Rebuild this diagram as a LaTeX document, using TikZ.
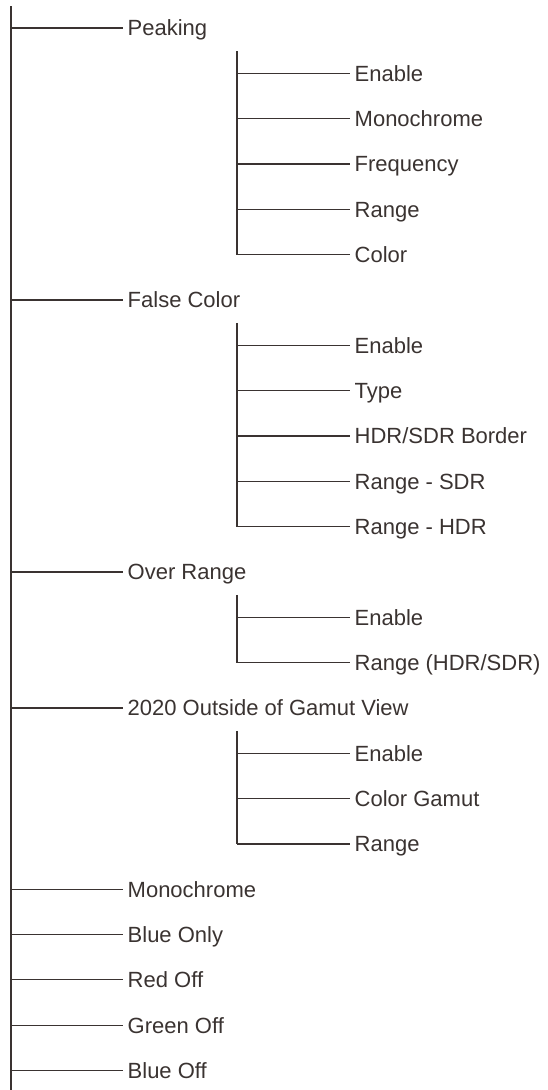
\documentclass[tikz,border=0pt]{standalone}
\usepackage{fontspec}
\setmainfont{Liberation Sans}
\definecolor{ink}{HTML}{3A3331}
\begin{document}
\begin{tikzpicture}[x=1pt,y=-1pt,
  tree/.style={draw=ink,line width=1.1pt},
  lbl/.style={anchor=west,inner xsep=4.5pt,inner ysep=0pt,text height=15.8pt,text depth=0pt,
    text=ink,font=\fontsize{22}{26}\selectfont}]
\useasboundingbox (0,0) rectangle (547,1090);
% main trunk
\coordinate (top) at (11,6);
\coordinate (bot) at (11,1090);
\draw[tree] (top) -- (bot);
% main items
\foreach \k/\t/\n in {0/Peaking/peak, 6/False Color/fc, 12/Over Range/or,
  15/2020 Outside of Gamut View/og, 19/Monochrome/mono, 20/Blue Only/bo,
  21/Red Off/ro, 22/Green Off/go, 23/Blue Off/boff}{
  \pgfmathsetmacro\yy{28+45.33*\k}
  \coordinate (\n-j) at (11,\yy);
  \node[lbl] (\n) at (123,\yy) {\t};
  \draw[tree] (\n-j) -- (\n.west);
}
% sub items
\foreach \k/\t/\n in {1/Enable/pa, 2/Monochrome/pb, 3/Frequency/pc, 4/Range/pd, 5/Color/pe,
  7/Enable/fa, 8/Type/fb, 9/{HDR/SDR Border}/fcc, 10/Range - SDR/fd, 11/Range - HDR/fe,
  13/Enable/oa, 14/{Range (HDR/SDR)}/ob,
  16/Enable/ga, 17/Color Gamut/gb, 18/Range/gc}{
  \pgfmathsetmacro\yy{28+45.33*\k}
  \coordinate (\n-j) at (237,\yy);
  \node[lbl] (\n) at (350,\yy) {\t};
  \draw[tree] (\n-j) -- (\n.west);
}
% sub trunks
\foreach \p/\l in {peak/pe, fc/fe, or/ob, og/gc}{
  \coordinate (\p-s) at ([yshift=-23pt]\p-j -| \l-j);
  \draw[tree] (\p-s) -- (\l-j);
}
\end{tikzpicture}
\end{document}
